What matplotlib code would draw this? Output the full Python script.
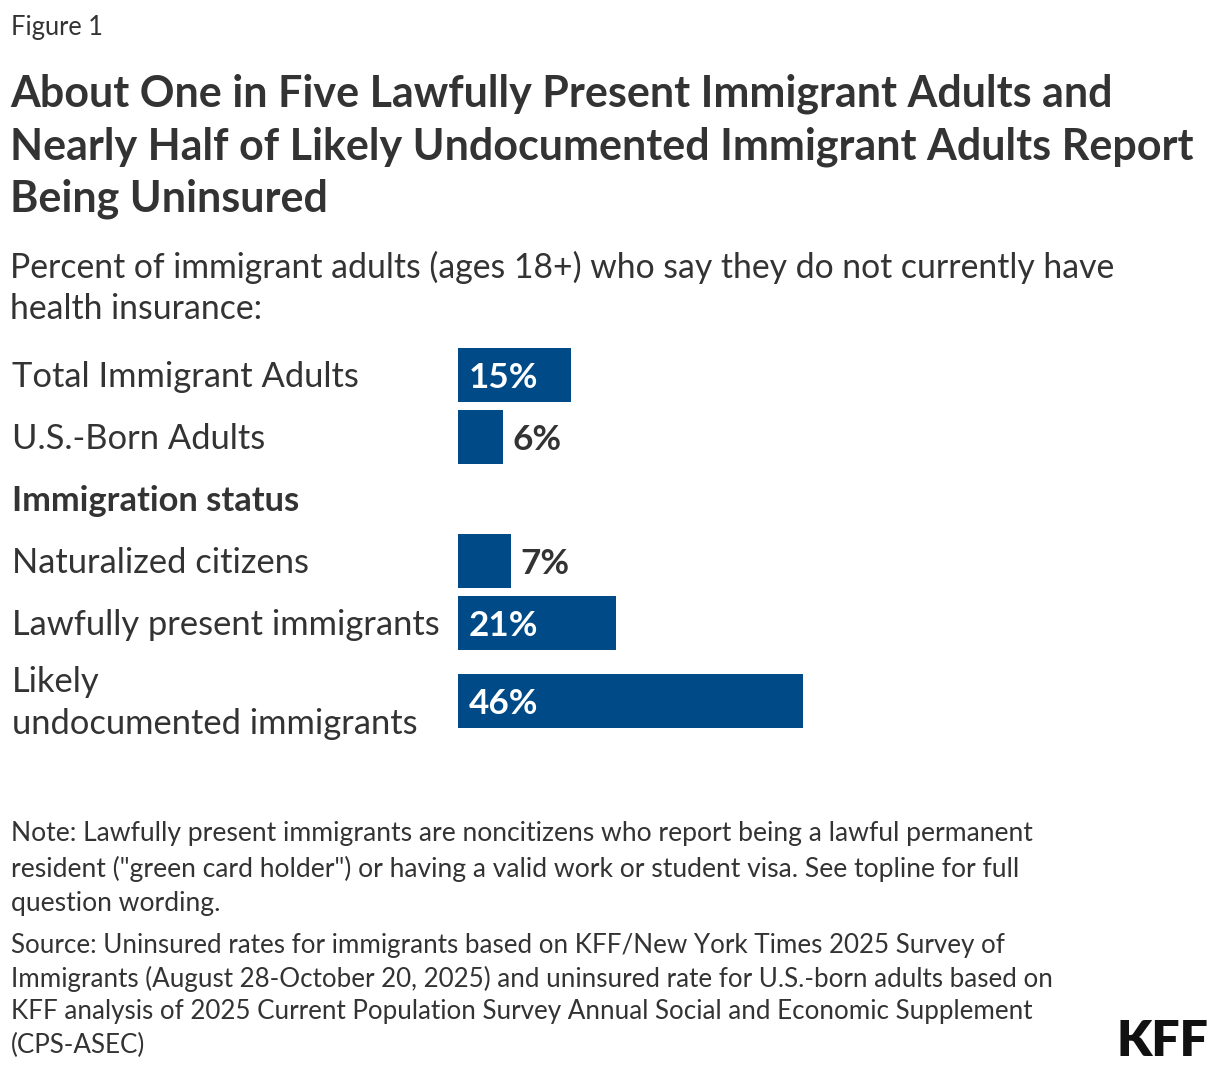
import matplotlib
matplotlib.use("Agg")
import matplotlib.pyplot as plt
import matplotlib.transforms as mtransforms

# ---- data ----
categories = ["Total Immigrant Adults", "U.S.-Born Adults", "Naturalized citizens",
              "Lawfully present immigrants", "Likely\nundocumented immigrants"]
values = [15, 6, 7, 21, 46]
value_labels = ["15%", "6%", "7%", "21%", "46%"]
group_header = "Immigration status"

title_lines = ["About One in Five Lawfully Present Immigrant Adults and",
               "Nearly Half of Likely Undocumented Immigrant Adults Report",
               "Being Uninsured"]
subtitle_lines = ["Percent of immigrant adults (ages 18+) who say they do not currently have",
                  "health insurance:"]
note_lines = ["Note: Lawfully present immigrants are noncitizens who report being a lawful permanent",
              "resident (\"green card holder\") or having a valid work or student visa. See topline for full",
              "question wording."]
source_lines = ["Source: Uninsured rates for immigrants based on KFF/New York Times 2025 Survey of",
                "Immigrants (August 28-October 20, 2025) and uninsured rate for U.S.-born adults based on",
                "KFF analysis of 2025 Current Population Survey Annual Social and Economic Supplement",
                "(CPS-ASEC)"]

FONT = "Lato"
plt.rcParams["font.family"] = [FONT, "DejaVu Sans"]
BAR = "#004A87"
TXT = "#333333"

W, H = 1220, 1072
fig = plt.figure(figsize=(W / 100, H / 100), dpi=100)
fig.patch.set_facecolor("white")

def fy(py):
    return 1 - py / H

def fx(px):
    return px / W

def pt(px):
    return px * 72 / 100

# header texts
fig.text(fx(11), fy(28), "Figure 1", fontsize=pt(25.5), color=TXT, va="center", ha="left")
for i, line in enumerate(title_lines):
    fig.text(fx(10), fy(94 + 52.5 * i), line, fontsize=pt(43), fontweight="bold",
             color=TXT, va="center", ha="left")
for i, line in enumerate(subtitle_lines):
    fig.text(fx(10), fy(267 + 42 * i), line, fontsize=pt(33.8), color=TXT, va="center", ha="left")

# axes: one row unit = 62 px
row_px = 62.0
ax_top, ax_bot = 340, 740
ax = fig.add_axes([fx(458), fy(ax_bot), 750 / W, (ax_bot - ax_top) / H])
ax.set_xlim(0, 100)
top_units = (375 - ax_top) / row_px
ax.set_ylim(-top_units + (ax_bot - ax_top) / row_px, -top_units)
ax.axis("off")

positions = [0, 1, 3, 4, 4 + 78 / row_px]
header_pos = 2
bar_h = 54 / row_px

ax.barh(positions, values, height=bar_h, color=BAR, linewidth=0)

LBL = 34.5
trans = mtransforms.blended_transform_factory(fig.transFigure, ax.transData)
for p, lab in zip(positions, categories):
    parts = lab.split("\n")
    n = len(parts)
    for j, part in enumerate(parts):
        off = -(j - (n - 1) / 2) * 43 - 2
        ax.annotate(part, (fx(12), p), xycoords=trans, xytext=(0, off),
                    textcoords="offset pixels", fontsize=pt(LBL), color=TXT,
                    va="center", ha="left")
ax.annotate(group_header, (fx(12), header_pos), xycoords=trans, xytext=(0, -2),
            textcoords="offset pixels", fontsize=pt(LBL), fontweight="bold",
            color=TXT, va="center", ha="left")

for p, v, lab in zip(positions, values, value_labels):
    if v >= 10:
        ax.annotate(lab, (0, p), xytext=(11, -3), textcoords="offset pixels",
                    fontsize=pt(35), fontweight="bold", color="white", va="center", ha="left")
    else:
        ax.annotate(lab, (v, p), xytext=(10, -3), textcoords="offset pixels",
                    fontsize=pt(35), fontweight="bold", color=TXT, va="center", ha="left")

for i, line in enumerate(note_lines):
    fig.text(fx(11), fy(834 + 34.5 * i), line, fontsize=pt(26.5), color=TXT, va="center", ha="left")
for i, line in enumerate(source_lines):
    fig.text(fx(11), fy(945 + 33.5 * i), line, fontsize=pt(26), color=TXT, va="center", ha="left")

fig.text(fx(1208), fy(1041), "KFF", fontsize=pt(50), fontweight="heavy", color="#111111",
         va="center", ha="right")

fig.savefig("out.png", dpi=100, facecolor="white")
